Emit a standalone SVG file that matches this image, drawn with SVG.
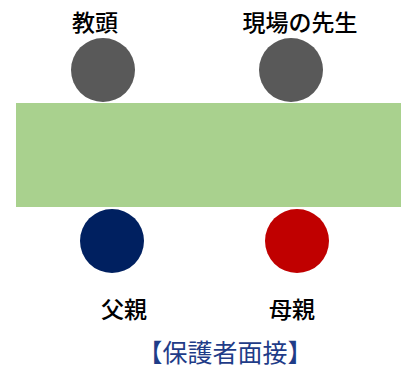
<svg xmlns="http://www.w3.org/2000/svg" width="401" height="370" viewBox="0 0 401 370">
<style>
.lbl{font-family:"Noto Sans CJK JP","Noto Sans CJK SC",sans-serif;font-size:23px;font-weight:500;fill:#000;text-anchor:middle}
.title{font-family:"Noto Sans CJK JP","Noto Sans CJK SC",sans-serif;font-size:25px;fill:#1F3C88;text-anchor:middle}
</style>
<rect width="401" height="370" fill="#fff"/>
<g id="table"><rect x="16" y="103" width="385" height="104" fill="#A9D18E"/></g>
<g id="kyoto"><circle cx="103" cy="70" r="32" fill="#595959"/><text class="lbl" x="95" y="31">教頭</text></g>
<g id="sensei"><circle cx="291" cy="70" r="32" fill="#595959"/><text class="lbl" x="300" y="31">現場の先生</text></g>
<g id="chichi"><circle cx="112" cy="241" r="32" fill="#002060"/><text class="lbl" x="124" y="318">父親</text></g>
<g id="haha"><circle cx="297" cy="241" r="32" fill="#C00000"/><text class="lbl" x="292" y="318">母親</text></g>
<g id="connectors"></g>
<text class="title" x="225" y="362">【保護者面接】</text>
</svg>
